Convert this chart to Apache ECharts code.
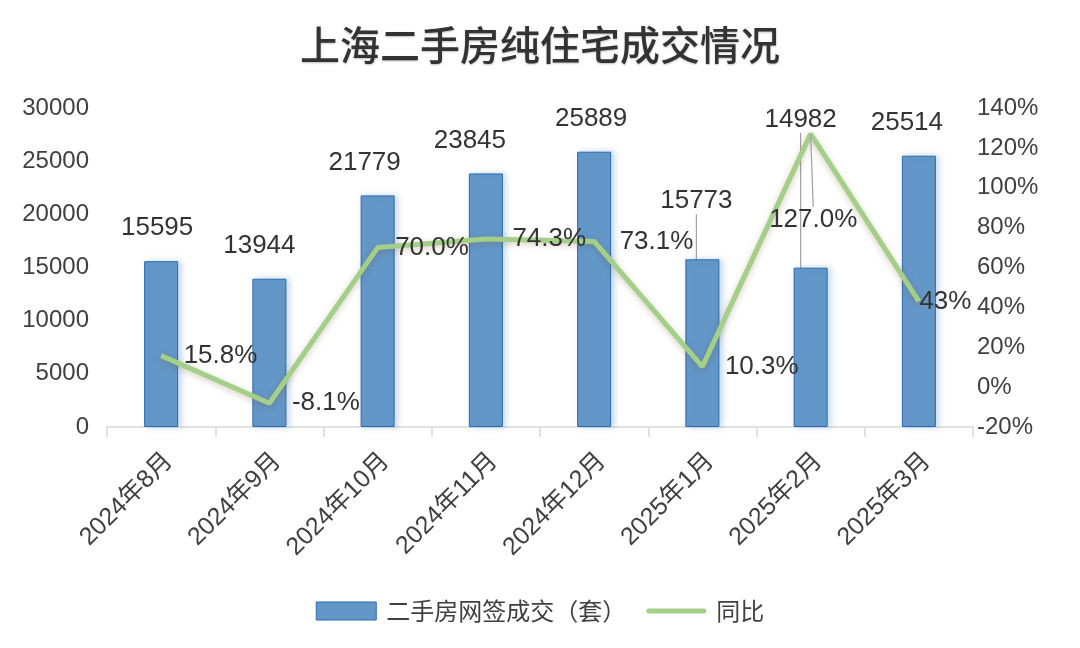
<!DOCTYPE html>
<html>
<head>
<meta charset="utf-8">
<script src="https://cdn.jsdelivr.net/npm/echarts@6/dist/echarts.min.js"></script>
<style>
  html, body { margin: 0; padding: 0; background: #fff; }
  #chart { width: 1080px; height: 648px; }
</style>
</head>
<body>
<div id="chart"></div>
<script>
var months = ['2024年8月', '2024年9月', '2024年10月', '2024年11月', '2024年12月', '2025年1月', '2025年2月', '2025年3月'];
var deals = [15595, 13944, 21779, 23845, 25889, 15773, 14982, 25514];
var yoy = [15.8, -8.1, 70.0, 74.3, 73.1, 10.3, 127.0, 43];
var yoyText = ['15.8%', '-8.1%', '70.0%', '74.3%', '73.1%', '10.3%', '127.0%', '43%'];

var font = 'Liberation Sans, Arial, Noto Sans CJK SC, sans-serif';
var myChart = echarts.init(document.getElementById('chart'));

// only the moved labels get a leader line
var dealsData = deals.map(function (v, i) {
  return { value: v, labelLine: { show: i === 5 || i === 6 } };
});
var yoyData = yoy.map(function (v, i) {
  return { value: v, labelLine: { show: i === 6 } };
});

// small nudges so the labels sit like in the original sheet
var barLabelMove = { 0: [-4, 0], 1: [-10, 0], 2: [-13, 0], 3: [-16, 0], 4: [-3, 0], 5: [-6, -25], 6: [-10, -115], 7: [-12, 0] };
var lineLabelMove = { 2: [-5, 0], 3: [4, 0], 4: [3, 0], 6: [-64, 86], 7: [-22, 0] };

var option = {
  backgroundColor: '#fff',
  title: {
    text: '上海二手房纯住宅成交情况',
    left: 'center',
    top: 20,
    textStyle: {
      fontFamily: 'Noto Sans CJK SC',
      fontSize: 40,
      fontWeight: 500,
      color: '#333',
      textShadowColor: 'rgba(0,0,0,0.25)',
      textShadowBlur: 2,
      textShadowOffsetY: 1
    }
  },
  legend: {
    bottom: 20,
    left: 'center',
    itemGap: 20,
    textStyle: { fontFamily: 'Noto Sans CJK SC', fontSize: 24, color: '#404040', padding: [0, 0, 0, 5] },
    data: [
      { name: '二手房网签成交（套）', icon: 'rect', itemStyle: { color: '#6397C8', borderColor: '#2A6AB0', borderWidth: 1 } },
      { name: '同比', icon: 'path://M2,0 L58,0 Q60,0 60,2.5 Q60,5 58,5 L2,5 Q0,5 0,2.5 Q0,0 2,0 Z', itemStyle: { color: '#A3CF88', opacity: 1 } }
    ],
    itemWidth: 60,
    itemHeight: 18
  },
  grid: { left: 107, right: 107, top: 108, bottom: 221 },
  xAxis: {
    type: 'category',
    data: months,
    axisLine: { lineStyle: { color: '#D9D9D9', width: 1.5 } },
    axisTick: { show: true, length: 10, lineStyle: { color: '#D9D9D9', width: 1.5 } },
    axisLabel: {
      rotate: 45,
      interval: 0,
      margin: 38,
      padding: [0, -11, 0, 0],
      fontFamily: font,
      fontSize: 25,
      color: '#404040'
    }
  },
  yAxis: [{
    type: 'value',
    min: 0,
    max: 30000,
    interval: 5000,
    splitLine: { show: false },
    axisLine: { show: false },
    axisTick: { show: false },
    axisLabel: {
      margin: 18,
      formatter: function (v) { return String(v); },
      fontFamily: font,
      fontSize: 24,
      color: '#404040'
    }
  }, {
    type: 'value',
    min: -20,
    max: 140,
    interval: 20,
    splitLine: { show: false },
    axisLine: { show: false },
    axisTick: { show: false },
    axisLabel: {
      margin: 4,
      formatter: function (v) { return v + '%'; },
      fontFamily: font,
      fontSize: 24,
      color: '#404040'
    }
  }],
  series: [{
    name: '二手房网签成交（套）',
    type: 'bar',
    data: dealsData,
    barWidth: 34,
    itemStyle: {
      color: '#6397C8',
      borderColor: '#2A6AB0',
      borderWidth: 1,
      shadowColor: 'rgba(91,147,200,0.35)',
      shadowBlur: 6,
      shadowOffsetX: 3
    },
    label: {
      show: true,
      position: 'top',
      distance: 20,
      fontFamily: font,
      fontSize: 26,
      color: '#333'
    },
    labelLine: { lineStyle: { color: '#A0A0A0', width: 1.2 } },
    labelLayout: function (p) {
      var m = barLabelMove[p.dataIndex];
      return m ? { dx: m[0], dy: m[1] } : {};
    }
  }, {
    name: '同比',
    type: 'line',
    yAxisIndex: 1,
    data: yoyData,
    symbol: 'circle',
    symbolSize: 1,
    showSymbol: true,
    lineStyle: {
      color: '#A3CF88',
      width: 5,
      shadowColor: 'rgba(120,80,40,0.3)',
      shadowBlur: 6,
      shadowOffsetY: 2
    },
    itemStyle: { color: 'rgba(163,207,136,0)' },
    label: {
      show: true,
      position: 'right',
      distance: 22,
      fontFamily: font,
      fontSize: 26,
      color: '#333',
      formatter: function (p) { return yoyText[p.dataIndex]; }
    },
    labelLine: { lineStyle: { color: '#A0A0A0', width: 1.2 } },
    labelLayout: function (p) {
      var m = lineLabelMove[p.dataIndex];
      return m ? { dx: m[0], dy: m[1] } : {};
    },
    z: 3
  }]
};

myChart.setOption(option);
</script>
</body>
</html>
